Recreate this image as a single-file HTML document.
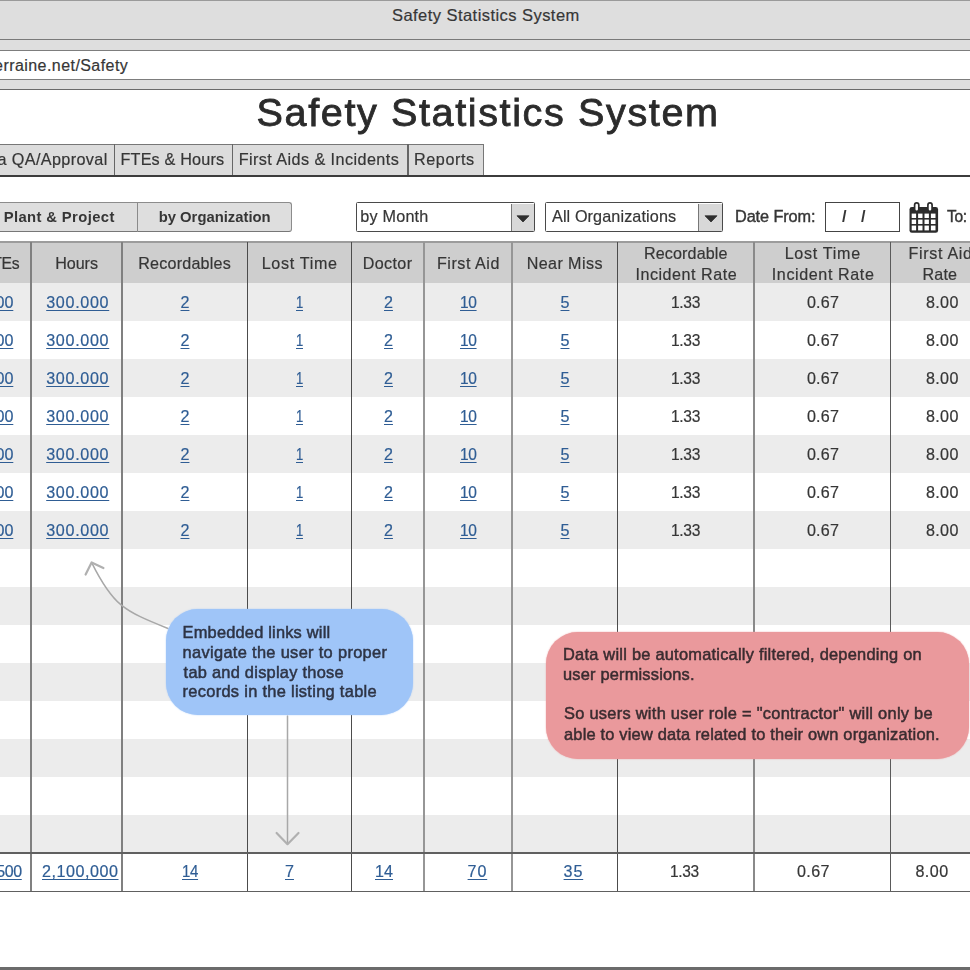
<!DOCTYPE html>
<html lang="en"><head><meta charset="utf-8"><title>Safety Statistics System</title>
<style>
html,body{margin:0;padding:0;}
body{width:970px;height:970px;overflow:hidden;position:relative;background:#fff;font-family:"Liberation Sans", sans-serif;color:#363636;}
.b{position:absolute;display:block;}
.t{position:absolute;white-space:pre;display:block;-webkit-text-stroke:0.2px currentColor;}
.u{text-decoration:underline;text-decoration-thickness:1.4px;text-underline-offset:1.9px;}
#all{position:absolute;left:0;top:0;width:970px;height:970px;overflow:hidden;filter:blur(0.45px);}
</style></head>
<body>
<div id="all">
<div class="b" style="left:0px;top:0px;width:970px;height:90px;background:#dedede;"></div>
<div class="b" style="left:0px;top:0px;width:970px;height:1.2px;background:#9a9a9a;"></div>
<div class="b" style="left:0px;top:38.6px;width:970px;height:1.3px;background:#7a7a7a;"></div>
<div class="b" style="left:-5px;top:50px;width:980px;height:29.5px;background:#fff;border:1.5px solid #7d7d7d;box-sizing:border-box;"></div>
<div class="b" style="left:0px;top:88.8px;width:970px;height:1.6px;background:#6a6a6a;"></div>
<div class="b" style="left:-5px;top:144px;width:488.5px;height:32.5px;background:#dcdcdc;border:1.3px solid #777;border-bottom:none;box-sizing:border-box;"></div>
<div class="b" style="left:113.80000000000001px;top:144px;width:1.3px;height:33px;background:#666;"></div>
<div class="b" style="left:231.6px;top:144px;width:1.3px;height:33px;background:#666;"></div>
<div class="b" style="left:407.4px;top:144px;width:1.3px;height:33px;background:#666;"></div>
<div class="b" style="left:0px;top:175.4px;width:970px;height:1.9px;background:#3c3c3c;"></div>
<div class="b" style="left:-45px;top:202.3px;width:336.6px;height:29.6px;background:#dedede;border:1.3px solid #8c8c8c;border-bottom-color:#777;border-radius:3px;box-sizing:border-box;"></div>
<div class="b" style="left:136.5px;top:203px;width:1.2px;height:28.5px;background:#8a8a8a;"></div>
<div class="b" style="left:356px;top:202.3px;width:178.8px;height:29.6px;background:#fff;border:1.6px solid #4a4a4a;box-sizing:border-box;border-radius:1.5px;"></div>
<div class="b" style="left:510.6px;top:203.5px;width:23.2px;height:27.2px;background:#d8d8d8;border-left:1.2px solid #777;box-sizing:border-box;"></div>
<svg class="b" style="left:516.4px;top:214.6px" width="14" height="9" viewBox="0 0 14 9"><path d="M1 0.8h12l-6 6.2z" fill="#2e2e2e" stroke="#2e2e2e" stroke-width="0.8" stroke-linejoin="round"/></svg>
<div class="b" style="left:545.4px;top:202.3px;width:177.4px;height:29.6px;background:#fff;border:1.6px solid #4a4a4a;box-sizing:border-box;border-radius:1.5px;"></div>
<div class="b" style="left:698.3px;top:203.5px;width:23.5px;height:27.2px;background:#d8d8d8;border-left:1.2px solid #777;box-sizing:border-box;"></div>
<svg class="b" style="left:703.9px;top:214.6px" width="14" height="9" viewBox="0 0 14 9"><path d="M1 0.8h12l-6 6.2z" fill="#2e2e2e" stroke="#2e2e2e" stroke-width="0.8" stroke-linejoin="round"/></svg>
<div class="b" style="left:824.6px;top:202.3px;width:75.5px;height:29.4px;background:#fff;border:1.4px solid #444;box-sizing:border-box;"></div>
<svg class="b" style="left:908.8px;top:201.8px" width="30" height="31.4" viewBox="0 0 30 31.4">
<rect x="0.5" y="5" width="28.6" height="25.8" rx="2.4" fill="#2b2b2b"/>
<g fill="#fff">
<rect x="2.7" y="11.6" width="4.4" height="4.4"/><rect x="9.1" y="11.6" width="4.4" height="4.4"/><rect x="15.5" y="11.6" width="4.4" height="4.4"/><rect x="21.9" y="11.6" width="4.6" height="4.4"/>
<rect x="2.7" y="17.6" width="4.4" height="4.4"/><rect x="9.1" y="17.6" width="4.4" height="4.4"/><rect x="15.5" y="17.6" width="4.4" height="4.4"/><rect x="21.9" y="17.6" width="4.6" height="4.4"/>
<rect x="2.7" y="23.6" width="4.4" height="4.8"/><rect x="9.1" y="23.6" width="4.4" height="4.8"/><rect x="15.5" y="23.6" width="4.4" height="4.8"/><rect x="21.9" y="23.6" width="4.6" height="4.8"/>
</g>
<rect x="5.6" y="0.9" width="4.2" height="8.4" rx="2.1" fill="#fff" stroke="#2b2b2b" stroke-width="1.7"/>
<rect x="18.9" y="0.9" width="4.2" height="8.4" rx="2.1" fill="#fff" stroke="#2b2b2b" stroke-width="1.7"/>
</svg>
<div class="b" style="left:0px;top:241.2px;width:970px;height:1.6px;background:#9c9c9c;"></div>
<div class="b" style="left:0px;top:242.6px;width:970px;height:40.1px;background:#cecece;"></div>
<div class="b" style="left:0px;top:282.8px;width:970px;height:38px;background:#ececec;"></div>
<div class="b" style="left:0px;top:358.8px;width:970px;height:38px;background:#ececec;"></div>
<div class="b" style="left:0px;top:434.8px;width:970px;height:38px;background:#ececec;"></div>
<div class="b" style="left:0px;top:510.8px;width:970px;height:38px;background:#ececec;"></div>
<div class="b" style="left:0px;top:586.8px;width:970px;height:38px;background:#ececec;"></div>
<div class="b" style="left:0px;top:662.8px;width:970px;height:38px;background:#ececec;"></div>
<div class="b" style="left:0px;top:738.8px;width:970px;height:38px;background:#ececec;"></div>
<div class="b" style="left:0px;top:814.8px;width:970px;height:38px;background:#ececec;"></div>
<div class="b" style="left:29.85px;top:242px;width:1.7px;height:650px;background:#808080;"></div>
<div class="b" style="left:121.05px;top:242px;width:1.7px;height:650px;background:#808080;"></div>
<div class="b" style="left:247px;top:242px;width:1.1px;height:650px;background:#4c4c4c;"></div>
<div class="b" style="left:351px;top:242px;width:1.1px;height:650px;background:#4c4c4c;"></div>
<div class="b" style="left:423.4px;top:242px;width:2px;height:650px;background:#969696;"></div>
<div class="b" style="left:510.9px;top:242px;width:2px;height:650px;background:#969696;"></div>
<div class="b" style="left:617px;top:242px;width:1.1px;height:650px;background:#4c4c4c;"></div>
<div class="b" style="left:753px;top:242px;width:1.8px;height:650px;background:#8a8a8a;"></div>
<div class="b" style="left:889.9px;top:242px;width:1.4px;height:650px;background:#5a5a5a;"></div>
<div class="b" style="left:0px;top:852.4px;width:970px;height:1.5px;background:#606060;"></div>
<div class="b" style="left:0px;top:891px;width:970px;height:1.4px;background:#606060;"></div>
<div class="b" style="left:0px;top:967.2px;width:970px;height:3px;background:#6b6b6b;"></div>
<svg class="b" style="left:0;top:0" width="970" height="970" viewBox="0 0 970 970" fill="none" stroke="#a8a8a8" stroke-width="1.5" stroke-linecap="round" stroke-linejoin="round">
<path d="M168 628.5 C 123.4 610.7, 112.9 605.2, 91.8 562.8"/>
<path d="M85.6 574.6 L91.6 562.4 L103.4 568" stroke-width="2.2" stroke="#b0b0b0"/>
<path d="M287.5 716 V843.5"/>
<path d="M276.6 833 L287.5 844.2 L298.5 833" stroke-width="2.2" stroke="#b0b0b0"/>
</svg>
<div class="b" style="left:166.2px;top:608.8px;width:246.8px;height:106.6px;background:#9fc5f8;border-radius:32px;box-shadow:0 0 1.5px #9fc5f8;"></div>
<div class="b" style="left:546.2px;top:631.5px;width:422.8px;height:127px;background:#ea999c;border-radius:32px;box-shadow:0 0 1.5px #ea999c;"></div>
<span class="t" style="left:392.00px;top:4.66px;font-size:16.5px;letter-spacing:0.447px;line-height:20px;">Safety Statistics System</span>
<span class="t" style="left:-50.80px;top:56.16px;font-size:16px;letter-spacing:0.438px;line-height:20px;">www.terraine.net/Safety</span>
<span class="t" style="left:256.60px;top:88.10px;font-size:39.6px;letter-spacing:1.603px;line-height:48px;color:#2b2b2b;-webkit-text-stroke:0.8px currentColor;">Safety Statistics System</span>
<span class="t" style="left:-28.82px;top:148.86px;font-size:16.2px;letter-spacing:0.377px;line-height:20px;">Data QA/Approval</span>
<span class="t" style="left:120.50px;top:148.86px;font-size:16.2px;letter-spacing:0.178px;line-height:20px;">FTEs &amp; Hours</span>
<span class="t" style="left:238.70px;top:148.86px;font-size:16.2px;letter-spacing:0.427px;line-height:20px;">First Aids &amp; Incidents</span>
<span class="t" style="left:414.00px;top:148.86px;font-size:16.2px;letter-spacing:0.569px;line-height:20px;">Reports</span>
<span class="t" style="left:-18.83px;top:206.86px;font-size:14.8px;letter-spacing:0.384px;line-height:20px;font-weight:700;-webkit-text-stroke:0;">by Plant &amp; Project</span>
<span class="t" style="left:158.70px;top:206.86px;font-size:14.8px;letter-spacing:0.009px;line-height:20px;font-weight:700;-webkit-text-stroke:0;">by Organization</span>
<span class="t" style="left:360.30px;top:206.06px;font-size:16.2px;letter-spacing:0.203px;line-height:20px;">by Month</span>
<span class="t" style="left:552.00px;top:206.06px;font-size:16.2px;letter-spacing:0.108px;line-height:20px;">All Organizations</span>
<span class="t" style="left:735.00px;top:205.86px;font-size:16.3px;letter-spacing:-0.100px;line-height:20px;-webkit-text-stroke:0.4px currentColor;">Date From:</span>
<span class="t" style="left:842.00px;top:205.86px;font-size:16.3px;letter-spacing:1.810px;line-height:20px;font-weight:700;-webkit-text-stroke:0;">/  /</span>
<span class="t" style="left:947.30px;top:206.26px;font-size:17.2px;letter-spacing:-0.350px;line-height:20px;transform:scaleX(0.9044);transform-origin:0 0;-webkit-text-stroke:0.45px currentColor;">To:</span>
<span class="t" style="left:-16.52px;top:252.76px;font-size:16.1px;letter-spacing:-0.350px;line-height:20px;transform:scaleX(0.9779);transform-origin:0 0;">FTEs</span>
<span class="t" style="left:55.30px;top:252.76px;font-size:16.1px;letter-spacing:-0.071px;line-height:20px;">Hours</span>
<span class="t" style="left:138.20px;top:252.76px;font-size:16.1px;letter-spacing:0.219px;line-height:20px;">Recordables</span>
<span class="t" style="left:261.70px;top:252.76px;font-size:16.1px;letter-spacing:0.699px;line-height:20px;">Lost Time</span>
<span class="t" style="left:362.70px;top:252.76px;font-size:16.1px;letter-spacing:0.392px;line-height:20px;">Doctor</span>
<span class="t" style="left:437.00px;top:252.76px;font-size:16.1px;letter-spacing:0.529px;line-height:20px;">First Aid</span>
<span class="t" style="left:526.70px;top:252.76px;font-size:16.1px;letter-spacing:0.415px;line-height:20px;">Near Miss</span>
<span class="t" style="left:644.00px;top:243.36px;font-size:16.1px;letter-spacing:0.127px;line-height:20px;">Recordable</span>
<span class="t" style="left:635.40px;top:263.56px;font-size:16.1px;letter-spacing:0.543px;line-height:20px;">Incident Rate</span>
<span class="t" style="left:784.70px;top:243.36px;font-size:16.1px;letter-spacing:0.712px;line-height:20px;">Lost Time</span>
<span class="t" style="left:771.80px;top:263.56px;font-size:16.1px;letter-spacing:0.601px;line-height:20px;">Incident Rate</span>
<span class="t" style="left:908.40px;top:243.36px;font-size:16.1px;letter-spacing:0.692px;line-height:20px;">First Aid</span>
<span class="t" style="left:922.60px;top:263.56px;font-size:16.1px;letter-spacing:0.119px;line-height:20px;">Rate</span>
<span class="t u" style="left:-26.72px;top:292.16px;font-size:16.1px;letter-spacing:-0.051px;line-height:20px;color:#2f5d94;">15.00</span>
<span class="t u" style="left:46.20px;top:292.16px;font-size:16.1px;letter-spacing:0.696px;line-height:20px;color:#2f5d94;">300.000</span>
<span class="t u" style="left:180.50px;top:292.16px;font-size:16.1px;letter-spacing:0.000px;line-height:20px;color:#2f5d94;">2</span>
<span class="t u" style="left:296.19px;top:292.16px;font-size:16.1px;letter-spacing:-0.350px;line-height:20px;transform:scaleX(0.8125);transform-origin:0 0;color:#2f5d94;">1</span>
<span class="t u" style="left:384.00px;top:292.16px;font-size:16.1px;letter-spacing:0.000px;line-height:20px;color:#2f5d94;">2</span>
<span class="t u" style="left:460.04px;top:292.16px;font-size:16.1px;letter-spacing:-0.350px;line-height:20px;transform:scaleX(0.9638);transform-origin:0 0;color:#2f5d94;">10</span>
<span class="t u" style="left:560.50px;top:292.16px;font-size:16.1px;letter-spacing:0.000px;line-height:20px;color:#2f5d94;">5</span>
<span class="t" style="left:671.03px;top:292.16px;font-size:16.1px;letter-spacing:-0.350px;line-height:20px;transform:scaleX(0.9685);transform-origin:0 0;">1.33</span>
<span class="t" style="left:806.90px;top:292.16px;font-size:16.1px;letter-spacing:0.242px;line-height:20px;">0.67</span>
<span class="t" style="left:926.00px;top:292.16px;font-size:16.1px;letter-spacing:0.342px;line-height:20px;">8.00</span>
<span class="t u" style="left:-26.72px;top:330.16px;font-size:16.1px;letter-spacing:-0.051px;line-height:20px;color:#2f5d94;">15.00</span>
<span class="t u" style="left:46.20px;top:330.16px;font-size:16.1px;letter-spacing:0.696px;line-height:20px;color:#2f5d94;">300.000</span>
<span class="t u" style="left:180.50px;top:330.16px;font-size:16.1px;letter-spacing:0.000px;line-height:20px;color:#2f5d94;">2</span>
<span class="t u" style="left:296.19px;top:330.16px;font-size:16.1px;letter-spacing:-0.350px;line-height:20px;transform:scaleX(0.8125);transform-origin:0 0;color:#2f5d94;">1</span>
<span class="t u" style="left:384.00px;top:330.16px;font-size:16.1px;letter-spacing:0.000px;line-height:20px;color:#2f5d94;">2</span>
<span class="t u" style="left:460.04px;top:330.16px;font-size:16.1px;letter-spacing:-0.350px;line-height:20px;transform:scaleX(0.9638);transform-origin:0 0;color:#2f5d94;">10</span>
<span class="t u" style="left:560.50px;top:330.16px;font-size:16.1px;letter-spacing:0.000px;line-height:20px;color:#2f5d94;">5</span>
<span class="t" style="left:671.03px;top:330.16px;font-size:16.1px;letter-spacing:-0.350px;line-height:20px;transform:scaleX(0.9685);transform-origin:0 0;">1.33</span>
<span class="t" style="left:806.90px;top:330.16px;font-size:16.1px;letter-spacing:0.242px;line-height:20px;">0.67</span>
<span class="t" style="left:926.00px;top:330.16px;font-size:16.1px;letter-spacing:0.342px;line-height:20px;">8.00</span>
<span class="t u" style="left:-26.72px;top:368.16px;font-size:16.1px;letter-spacing:-0.051px;line-height:20px;color:#2f5d94;">15.00</span>
<span class="t u" style="left:46.20px;top:368.16px;font-size:16.1px;letter-spacing:0.696px;line-height:20px;color:#2f5d94;">300.000</span>
<span class="t u" style="left:180.50px;top:368.16px;font-size:16.1px;letter-spacing:0.000px;line-height:20px;color:#2f5d94;">2</span>
<span class="t u" style="left:296.19px;top:368.16px;font-size:16.1px;letter-spacing:-0.350px;line-height:20px;transform:scaleX(0.8125);transform-origin:0 0;color:#2f5d94;">1</span>
<span class="t u" style="left:384.00px;top:368.16px;font-size:16.1px;letter-spacing:0.000px;line-height:20px;color:#2f5d94;">2</span>
<span class="t u" style="left:460.04px;top:368.16px;font-size:16.1px;letter-spacing:-0.350px;line-height:20px;transform:scaleX(0.9638);transform-origin:0 0;color:#2f5d94;">10</span>
<span class="t u" style="left:560.50px;top:368.16px;font-size:16.1px;letter-spacing:0.000px;line-height:20px;color:#2f5d94;">5</span>
<span class="t" style="left:671.03px;top:368.16px;font-size:16.1px;letter-spacing:-0.350px;line-height:20px;transform:scaleX(0.9685);transform-origin:0 0;">1.33</span>
<span class="t" style="left:806.90px;top:368.16px;font-size:16.1px;letter-spacing:0.242px;line-height:20px;">0.67</span>
<span class="t" style="left:926.00px;top:368.16px;font-size:16.1px;letter-spacing:0.342px;line-height:20px;">8.00</span>
<span class="t u" style="left:-26.72px;top:406.16px;font-size:16.1px;letter-spacing:-0.051px;line-height:20px;color:#2f5d94;">15.00</span>
<span class="t u" style="left:46.20px;top:406.16px;font-size:16.1px;letter-spacing:0.696px;line-height:20px;color:#2f5d94;">300.000</span>
<span class="t u" style="left:180.50px;top:406.16px;font-size:16.1px;letter-spacing:0.000px;line-height:20px;color:#2f5d94;">2</span>
<span class="t u" style="left:296.19px;top:406.16px;font-size:16.1px;letter-spacing:-0.350px;line-height:20px;transform:scaleX(0.8125);transform-origin:0 0;color:#2f5d94;">1</span>
<span class="t u" style="left:384.00px;top:406.16px;font-size:16.1px;letter-spacing:0.000px;line-height:20px;color:#2f5d94;">2</span>
<span class="t u" style="left:460.04px;top:406.16px;font-size:16.1px;letter-spacing:-0.350px;line-height:20px;transform:scaleX(0.9638);transform-origin:0 0;color:#2f5d94;">10</span>
<span class="t u" style="left:560.50px;top:406.16px;font-size:16.1px;letter-spacing:0.000px;line-height:20px;color:#2f5d94;">5</span>
<span class="t" style="left:671.03px;top:406.16px;font-size:16.1px;letter-spacing:-0.350px;line-height:20px;transform:scaleX(0.9685);transform-origin:0 0;">1.33</span>
<span class="t" style="left:806.90px;top:406.16px;font-size:16.1px;letter-spacing:0.242px;line-height:20px;">0.67</span>
<span class="t" style="left:926.00px;top:406.16px;font-size:16.1px;letter-spacing:0.342px;line-height:20px;">8.00</span>
<span class="t u" style="left:-26.72px;top:444.16px;font-size:16.1px;letter-spacing:-0.051px;line-height:20px;color:#2f5d94;">15.00</span>
<span class="t u" style="left:46.20px;top:444.16px;font-size:16.1px;letter-spacing:0.696px;line-height:20px;color:#2f5d94;">300.000</span>
<span class="t u" style="left:180.50px;top:444.16px;font-size:16.1px;letter-spacing:0.000px;line-height:20px;color:#2f5d94;">2</span>
<span class="t u" style="left:296.19px;top:444.16px;font-size:16.1px;letter-spacing:-0.350px;line-height:20px;transform:scaleX(0.8125);transform-origin:0 0;color:#2f5d94;">1</span>
<span class="t u" style="left:384.00px;top:444.16px;font-size:16.1px;letter-spacing:0.000px;line-height:20px;color:#2f5d94;">2</span>
<span class="t u" style="left:460.04px;top:444.16px;font-size:16.1px;letter-spacing:-0.350px;line-height:20px;transform:scaleX(0.9638);transform-origin:0 0;color:#2f5d94;">10</span>
<span class="t u" style="left:560.50px;top:444.16px;font-size:16.1px;letter-spacing:0.000px;line-height:20px;color:#2f5d94;">5</span>
<span class="t" style="left:671.03px;top:444.16px;font-size:16.1px;letter-spacing:-0.350px;line-height:20px;transform:scaleX(0.9685);transform-origin:0 0;">1.33</span>
<span class="t" style="left:806.90px;top:444.16px;font-size:16.1px;letter-spacing:0.242px;line-height:20px;">0.67</span>
<span class="t" style="left:926.00px;top:444.16px;font-size:16.1px;letter-spacing:0.342px;line-height:20px;">8.00</span>
<span class="t u" style="left:-26.72px;top:482.16px;font-size:16.1px;letter-spacing:-0.051px;line-height:20px;color:#2f5d94;">15.00</span>
<span class="t u" style="left:46.20px;top:482.16px;font-size:16.1px;letter-spacing:0.696px;line-height:20px;color:#2f5d94;">300.000</span>
<span class="t u" style="left:180.50px;top:482.16px;font-size:16.1px;letter-spacing:0.000px;line-height:20px;color:#2f5d94;">2</span>
<span class="t u" style="left:296.19px;top:482.16px;font-size:16.1px;letter-spacing:-0.350px;line-height:20px;transform:scaleX(0.8125);transform-origin:0 0;color:#2f5d94;">1</span>
<span class="t u" style="left:384.00px;top:482.16px;font-size:16.1px;letter-spacing:0.000px;line-height:20px;color:#2f5d94;">2</span>
<span class="t u" style="left:460.04px;top:482.16px;font-size:16.1px;letter-spacing:-0.350px;line-height:20px;transform:scaleX(0.9638);transform-origin:0 0;color:#2f5d94;">10</span>
<span class="t u" style="left:560.50px;top:482.16px;font-size:16.1px;letter-spacing:0.000px;line-height:20px;color:#2f5d94;">5</span>
<span class="t" style="left:671.03px;top:482.16px;font-size:16.1px;letter-spacing:-0.350px;line-height:20px;transform:scaleX(0.9685);transform-origin:0 0;">1.33</span>
<span class="t" style="left:806.90px;top:482.16px;font-size:16.1px;letter-spacing:0.242px;line-height:20px;">0.67</span>
<span class="t" style="left:926.00px;top:482.16px;font-size:16.1px;letter-spacing:0.342px;line-height:20px;">8.00</span>
<span class="t u" style="left:-26.72px;top:520.16px;font-size:16.1px;letter-spacing:-0.051px;line-height:20px;color:#2f5d94;">15.00</span>
<span class="t u" style="left:46.20px;top:520.16px;font-size:16.1px;letter-spacing:0.696px;line-height:20px;color:#2f5d94;">300.000</span>
<span class="t u" style="left:180.50px;top:520.16px;font-size:16.1px;letter-spacing:0.000px;line-height:20px;color:#2f5d94;">2</span>
<span class="t u" style="left:296.19px;top:520.16px;font-size:16.1px;letter-spacing:-0.350px;line-height:20px;transform:scaleX(0.8125);transform-origin:0 0;color:#2f5d94;">1</span>
<span class="t u" style="left:384.00px;top:520.16px;font-size:16.1px;letter-spacing:0.000px;line-height:20px;color:#2f5d94;">2</span>
<span class="t u" style="left:460.04px;top:520.16px;font-size:16.1px;letter-spacing:-0.350px;line-height:20px;transform:scaleX(0.9638);transform-origin:0 0;color:#2f5d94;">10</span>
<span class="t u" style="left:560.50px;top:520.16px;font-size:16.1px;letter-spacing:0.000px;line-height:20px;color:#2f5d94;">5</span>
<span class="t" style="left:671.03px;top:520.16px;font-size:16.1px;letter-spacing:-0.350px;line-height:20px;transform:scaleX(0.9685);transform-origin:0 0;">1.33</span>
<span class="t" style="left:806.90px;top:520.16px;font-size:16.1px;letter-spacing:0.242px;line-height:20px;">0.67</span>
<span class="t" style="left:926.00px;top:520.16px;font-size:16.1px;letter-spacing:0.342px;line-height:20px;">8.00</span>
<span class="t u" style="left:-25.16px;top:861.16px;font-size:16.1px;letter-spacing:-0.350px;line-height:20px;transform:scaleX(0.9923);transform-origin:0 0;color:#2f5d94;">10,500</span>
<span class="t u" style="left:42.00px;top:861.16px;font-size:16.1px;letter-spacing:0.544px;line-height:20px;color:#2f5d94;">2,100,000</span>
<span class="t u" style="left:182.07px;top:861.16px;font-size:16.1px;letter-spacing:-0.350px;line-height:20px;transform:scaleX(0.9337);transform-origin:0 0;color:#2f5d94;">14</span>
<span class="t u" style="left:285.00px;top:861.16px;font-size:16.1px;letter-spacing:0.000px;line-height:20px;color:#2f5d94;">7</span>
<span class="t u" style="left:375.00px;top:861.16px;font-size:16.1px;letter-spacing:0.049px;line-height:20px;color:#2f5d94;">14</span>
<span class="t u" style="left:467.60px;top:861.16px;font-size:16.1px;letter-spacing:0.849px;line-height:20px;color:#2f5d94;">70</span>
<span class="t u" style="left:563.60px;top:861.16px;font-size:16.1px;letter-spacing:0.849px;line-height:20px;color:#2f5d94;">35</span>
<span class="t" style="left:669.84px;top:861.16px;font-size:16.1px;letter-spacing:-0.350px;line-height:20px;transform:scaleX(0.9617);transform-origin:0 0;">1.33</span>
<span class="t" style="left:797.00px;top:861.16px;font-size:16.1px;letter-spacing:0.409px;line-height:20px;">0.67</span>
<span class="t" style="left:915.40px;top:861.16px;font-size:16.1px;letter-spacing:0.476px;line-height:20px;">8.00</span>
<span class="t" style="left:182.60px;top:621.86px;font-size:16.4px;letter-spacing:0.200px;line-height:20px;color:#2e3445;-webkit-text-stroke:0.5px currentColor;">Embedded links will</span>
<span class="t" style="left:182.60px;top:641.66px;font-size:16.4px;letter-spacing:0.325px;line-height:20px;color:#2e3445;-webkit-text-stroke:0.5px currentColor;">navigate the user to proper</span>
<span class="t" style="left:183.60px;top:661.66px;font-size:16.4px;letter-spacing:0.255px;line-height:20px;color:#2e3445;-webkit-text-stroke:0.5px currentColor;">tab and display those</span>
<span class="t" style="left:182.60px;top:681.26px;font-size:16.4px;letter-spacing:0.302px;line-height:20px;color:#2e3445;-webkit-text-stroke:0.5px currentColor;">records in the listing table</span>
<span class="t" style="left:563.00px;top:644.06px;font-size:16.4px;letter-spacing:0.239px;line-height:20px;color:#3a2c30;-webkit-text-stroke:0.5px currentColor;">Data will be automatically filtered, depending on</span>
<span class="t" style="left:563.00px;top:664.16px;font-size:16.4px;letter-spacing:0.195px;line-height:20px;color:#3a2c30;-webkit-text-stroke:0.5px currentColor;">user permissions.</span>
<span class="t" style="left:564.00px;top:703.36px;font-size:16.4px;letter-spacing:0.280px;line-height:20px;color:#3a2c30;-webkit-text-stroke:0.5px currentColor;">So users with user role = "contractor" will only be</span>
<span class="t" style="left:564.00px;top:723.56px;font-size:16.4px;letter-spacing:0.200px;line-height:20px;color:#3a2c30;-webkit-text-stroke:0.5px currentColor;">able to view data related to their own organization.</span>
</div>
</body></html>
